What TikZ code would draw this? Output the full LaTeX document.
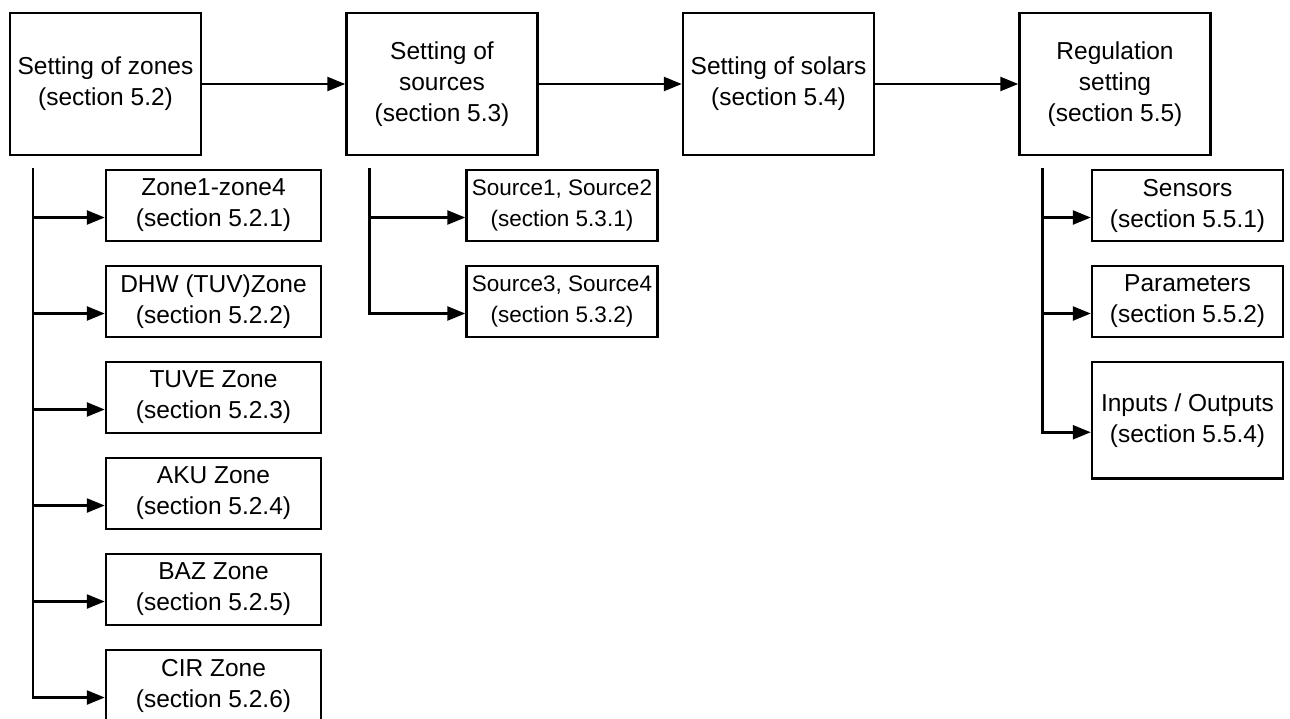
\documentclass[tikz,border=0pt]{standalone}
\usepackage{fontspec}
\setmainfont{Liberation Sans}
\usetikzlibrary{arrows.meta,positioning}

\begin{document}
\begin{tikzpicture}[
    x=1pt, y=-1pt,
    node distance=143pt,
    stage/.style={draw, line width=2.5pt, minimum width=191pt, minimum height=142pt, align=center, inner sep=0pt, font=\fontsize{24.5}{31}\selectfont},
    sub/.style={stage, minimum height=71pt},
    arrow/.style={-{Triangle[length=18pt,width=14pt]}, line width=2.5pt}
]
    \useasboundingbox (0,0) rectangle (1290,718);

    % main stages
    \node[stage] (zones) at (105.5,84) {Setting of zones\\(section 5.2)};
    \node[stage, right=of zones] (sources) {Setting of\\sources\\(section 5.3)};
    \node[stage, right=of sources] (solars) {Setting of solars\\(section 5.4)};
    \node[stage, right=of solars] (regul) {Regulation\\setting\\(section 5.5)};

    \draw[arrow] (zones) -- (sources);
    \draw[arrow] (sources) -- (solars);
    \draw[arrow] (solars) -- (regul);

    % zones
    \node[sub, minimum width=215pt] (zone1) at (213.5,205.5) {Zone1-zone4\\(section 5.2.1)};
    \node[sub, minimum width=215pt, below=22.5pt of zone1] (zone2) {DHW (TUV)Zone\\(section 5.2.2)};
    \node[sub, minimum width=215pt, below=22.5pt of zone2] (zone3) {TUVE Zone\\(section 5.2.3)};
    \node[sub, minimum width=215pt, below=22.5pt of zone3] (zone4) {AKU Zone\\(section 5.2.4)};
    \node[sub, minimum width=215pt, below=22.5pt of zone4] (zone5) {BAZ Zone\\(section 5.2.5)};
    \node[sub, minimum width=215pt, below=22.5pt of zone5] (zone6) {CIR Zone\\(section 5.2.6)};

    % sources
    \node[sub, font=\fontsize{22.5}{31}\selectfont] (src1) at (562,205.5) {Source1, Source2\\(section 5.3.1)};
    \node[sub, font=\fontsize{22.5}{31}\selectfont, below=22.5pt of src1] (src2) {Source3, Source4\\(section 5.3.2)};

    % regulation
    \node[sub] (sensors) at (1187.5,205.5) {Sensors\\(section 5.5.1)};
    \node[sub, below=22.5pt of sensors] (params) {Parameters\\(section 5.5.2)};
    \node[sub, minimum height=116.5pt, below=22.5pt of params] (inout) {Inputs / Outputs\\(section 5.5.4)};

    \coordinate (ztrunk) at ([xshift=24pt,yshift=-12pt]zones.south west);
    \coordinate (strunk) at ([xshift=24pt,yshift=-12pt]sources.south west);
    \coordinate (rtrunk) at ([xshift=24pt,yshift=-12pt]regul.south west);

    \foreach \n in {zone1,zone2,zone3,zone4,zone5,zone6}
        \draw[arrow] (ztrunk) |- ([yshift=-12pt]\n.west);
    \foreach \n in {src1,src2}
        \draw[arrow] (strunk) |- ([yshift=-12pt]\n.west);
    \foreach \n in {sensors,params,inout}
        \draw[arrow] (rtrunk) |- ([yshift=-12pt]\n.west);
\end{tikzpicture}
\end{document}
